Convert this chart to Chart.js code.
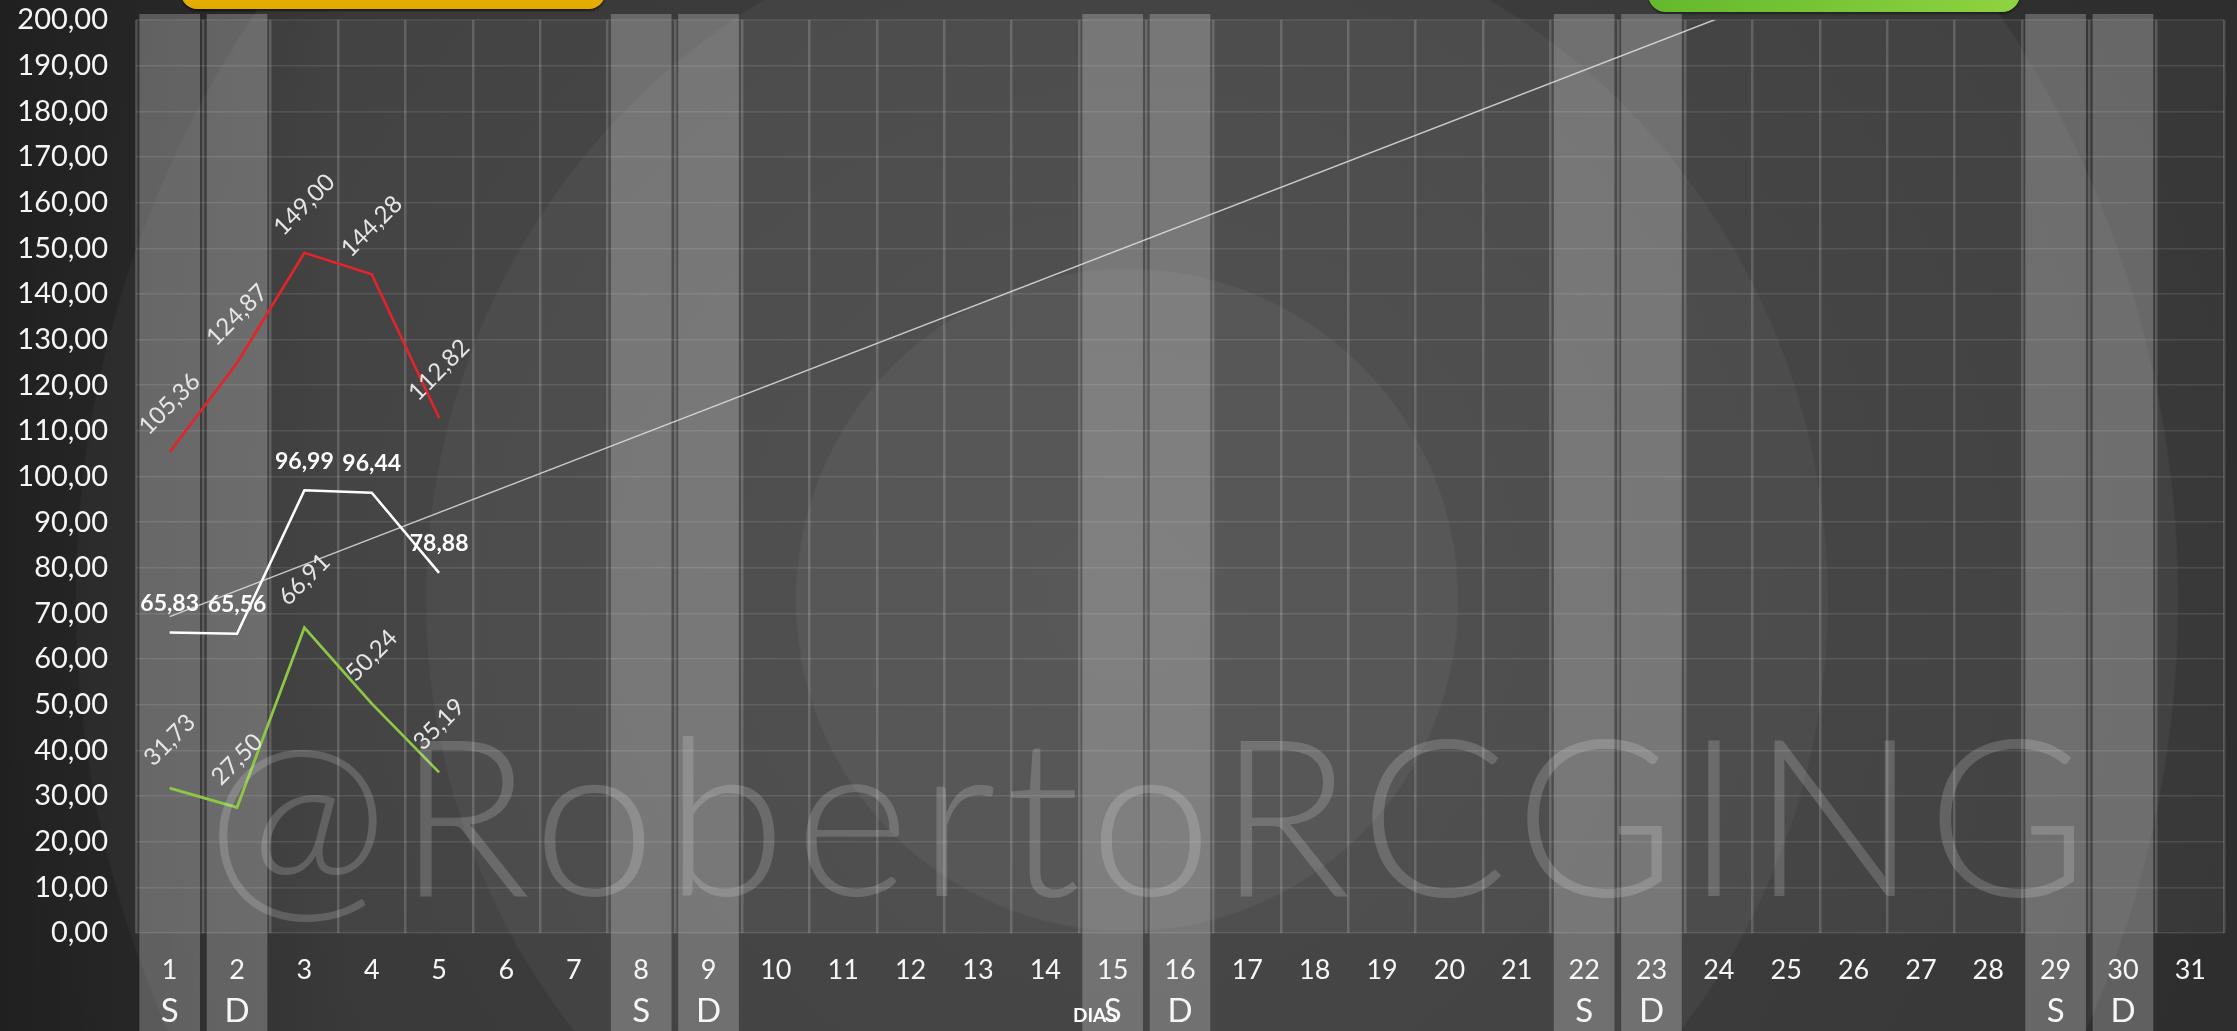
<!DOCTYPE html>
<html lang="es">
<head>
<meta charset="utf-8">
<title>Días</title>
<script src="https://cdn.jsdelivr.net/npm/chart.js@4.4.0/dist/chart.umd.min.js"></script>
<style>
html, body { margin: 0; padding: 0; width: 2237px; height: 1031px; overflow: hidden; }
body {
    position: relative;
    font-family: Lato, sans-serif;
    background:
        linear-gradient(to right, rgba(0,0,0,0.3) 0px, rgba(0,0,0,0) 350px),
        radial-gradient(circle at 1127px 600px, #505050 0, #4e4e4e 330px, #464646 332px, #434343 700px,
            #3b3b3b 702px, #383838 1050px, #2f2f2f 1052px, #2b2b2b 1600px);
}
#wrap { position: absolute; left: 0; top: 0; width: 2237px; height: 1031px; }
.tab { position: absolute; top: -40px; }
#tabYellow {
    left: 181px; width: 424px; height: 49px;
    background: linear-gradient(180deg, #f2bd00, #e3aa00);
    border-radius: 0 0 16px 16px;
    box-shadow: 0 2px 2px rgba(0,0,0,0.5);
}
#tabGreen {
    left: 1648px; width: 372px; height: 52px;
    background: linear-gradient(100deg, #62b82c, #8fd341);
    border-radius: 0 0 18px 18px;
    box-shadow: 0 2px 2px rgba(0,0,0,0.4);
}
#watermark {
    position: absolute; left: 206px; top: 701px;
    font: 300 220px Lato, sans-serif; line-height: 1;
    letter-spacing: 9px;
    color: rgba(255,255,255,0.17);
    white-space: nowrap; pointer-events: none;
}
</style>
</head>
<body>
<div class="tab" id="tabYellow"></div>
<div class="tab" id="tabGreen"></div>
<div id="wrap"><canvas id="chart"></canvas></div>
<div id="watermark">@RobertoRCGING</div>
<script>
// días del mes (eje X)
const days = ['1','2','3','4','5','6','7','8','9','10','11','12','13','14','15','16',
              '17','18','19','20','21','22','23','24','25','26','27','28','29','30','31'];
// fila de sábado / domingo bajo cada día
const weekRow = ['S','D','','','','','','S','D','','','','','','S','D',
                 '','','','','','S','D','','','','','','S','D',''];
// columnas resaltadas (fin de semana)
const weekendDays = ['1','2','8','9','15','16','22','23','29','30'];

// series
const redValues   = [105.36, 124.87, 149.00, 144.28, 112.82];
const whiteValues = [65.83, 65.56, 96.99, 96.44, 78.88];
const greenValues = [31.73, 27.50, 66.91, 50.24, 35.19];

// línea de tendencia (extremos)
const trendDays   = ['1', '24'];
const trendValues = [69.3, 200.4];

// eje Y
const yMin = 0, yMax = 200, yStep = 10;

function fmt(v) {
    return v.toFixed(2).replace('.', ',');
}

// fondo del área y columnas de fin de semana
const bandsPlugin = {
    id: 'bands',
    beforeDraw(chart) {
        const { ctx, chartArea } = chart;
        const x = chart.scales.x;
        const step = x.getPixelForValue(1) - x.getPixelForValue(0);
        ctx.save();
        ctx.fillStyle = 'rgba(255,255,255,0.05)';
        ctx.fillRect(chartArea.left, chartArea.top, chartArea.right - chartArea.left, chartArea.bottom - chartArea.top);
        ctx.fillStyle = 'rgba(255,255,255,0.24)';
        weekendDays.forEach(d => {
            const cx = x.getPixelForValue(days.indexOf(d));
            ctx.fillRect(cx - step * 0.45, chartArea.top - 6, step * 0.9, chart.height - chartArea.top + 6);
        });
        // título del eje, queda debajo de la "S" del día 15
        const cx15 = x.getPixelForValue(days.indexOf('15'));
        ctx.font = 'bold 19px Lato, sans-serif';
        ctx.fillStyle = '#ffffff';
        ctx.textAlign = 'right';
        ctx.textBaseline = 'middle';
        ctx.fillText('DIAS', cx15 + 4, chart.scales.x2.bottom - 15);
        ctx.restore();
    }
};

// etiquetas de valores
const labelsPlugin = {
    id: 'valueLabels',
    afterDatasetsDraw(chart) {
        const ctx = chart.ctx;
        chart.data.datasets.forEach((ds, i) => {
            const st = ds.valueLabel;
            if (!st) return;
            chart.getDatasetMeta(i).data.forEach((pt, j) => {
                ctx.save();
                ctx.translate(pt.x, pt.y - st.offset);
                ctx.rotate(st.angle * Math.PI / 180);
                ctx.font = st.font;
                ctx.fillStyle = st.color;
                ctx.textAlign = 'center';
                ctx.textBaseline = 'middle';
                ctx.fillText(fmt(ds.data[j]), 0, 0);
                ctx.restore();
            });
        });
    }
};

const thinLabel = { offset: 48, angle: -45, font: '24px Lato, sans-serif', color: '#e6e6e6' };

new Chart(document.getElementById('chart'), {
    type: 'line',
    data: {
        labels: days,
        datasets: [
            {
                data: redValues,
                borderColor: '#e3242b',
                borderWidth: 2.6,
                pointRadius: 0,
                tension: 0,
                valueLabel: thinLabel
            },
            {
                data: whiteValues,
                borderColor: '#ffffff',
                borderWidth: 2.6,
                pointRadius: 0,
                tension: 0,
                valueLabel: { offset: 29, angle: 0, font: 'bold 23px Lato, sans-serif', color: '#ffffff' }
            },
            {
                data: greenValues,
                borderColor: '#8cc846',
                borderWidth: 2.8,
                pointRadius: 0,
                tension: 0,
                valueLabel: thinLabel
            },
            {
                data: trendDays.map((d, i) => ({ x: d, y: trendValues[i] })),
                borderColor: 'rgba(225,225,225,0.85)',
                borderWidth: 1.5,
                pointRadius: 0,
                tension: 0,
                order: 10
            }
        ]
    },
    options: {
        responsive: true,
        maintainAspectRatio: false,
        animation: false,
        layout: { padding: { top: 20, right: 13, bottom: 0, left: 0 } },
        plugins: {
            legend: { display: false },
            tooltip: { enabled: false }
        },
        scales: {
            x: {
                type: 'category',
                offset: true,
                weight: 0,
                grid: { display: true, offset: true, drawTicks: false, color: 'rgba(255,255,255,0.17)', lineWidth: 2.5 },
                border: { display: false },
                ticks: { color: '#f6f6f6', font: { family: 'Lato', size: 27 }, padding: 21, maxRotation: 0, autoSkip: false },
                afterFit: s => { s.height = 53.6; }
            },
            x2: {
                type: 'category',
                labels: weekRow,
                position: 'bottom',
                offset: true,
                weight: 1,
                grid: { display: false, drawTicks: false },
                border: { display: false },
                ticks: { color: '#f6f6f6', font: { family: 'Lato', size: 33 }, padding: 5, maxRotation: 0, autoSkip: false },
                afterFit: s => { s.height = 44.4; }
            },
            y: {
                min: yMin,
                max: yMax,
                grid: { color: 'rgba(255,255,255,0.1)', lineWidth: 1.5, drawTicks: false },
                border: { display: false },
                ticks: {
                    stepSize: yStep,
                    color: '#f6f6f6',
                    font: { family: 'Lato', size: 29 },
                    padding: 28,
                    callback: v => fmt(v)
                },
                afterFit: s => { s.width = 136; s.paddingTop = 17; s.paddingBottom = 17; }
            }
        }
    },
    plugins: [bandsPlugin, labelsPlugin]
});
</script>
</body>
</html>
